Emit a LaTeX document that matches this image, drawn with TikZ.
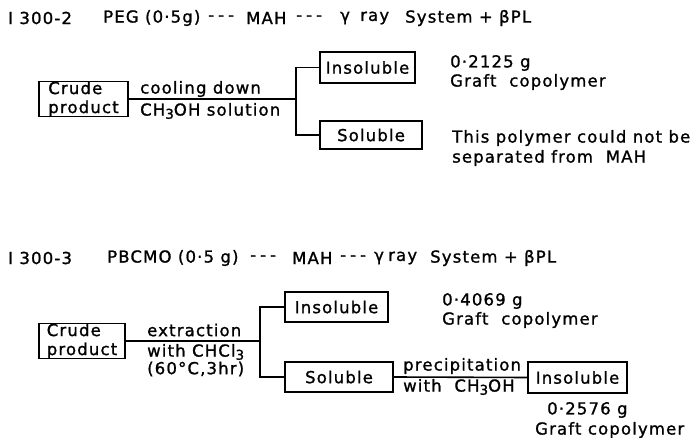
\documentclass[tikz,border=0pt]{standalone}
\usepackage{fontspec}
\setmainfont[LetterSpace=7,Ligatures=TeXOff,FakeBold=1.2]{DejaVu Sans}
\newcommand{\subthree}{\raisebox{-0.35ex}{\fontsize{13.5}{13.5}\selectfont 3}}
\newcommand{\triplehyphen}{-\hspace{4pt}-\hspace{4pt}-}
\begin{document}
\begin{tikzpicture}[x=1pt,y=-1pt,
  every node/.style={font=\fontsize{16.5}{19}\selectfont, inner sep=0pt},
  box/.style={draw, line width=1.6pt, minimum height=30pt, align=left},
  lbl/.style={anchor=west, align=left},
  wire/.style={line width=1.6pt}]
\useasboundingbox (0,0) rectangle (696,438);

% ---- Run I 300-2 ----
\node[lbl] (h1a) at (8,18) {I 300-2};
\node[lbl] (h1b) at (103,18) {PEG (0·5g)};
\node[lbl] (h1c) at (208,18) {\triplehyphen};
\node[lbl] (h1d) at (246,18) {MAH};
\node[lbl] (h1e) at (296,18) {\triplehyphen};
\node[lbl] (h1f) at (340,18) {γ};
\node[lbl] (h1g) at (360,18) {ray};
\node[lbl] (h1h) at (405,18) {System + βPL};

\node[box, minimum width=89pt, minimum height=35pt] (crude1) at (83.5,99) {Crude\\product};
\coordinate (b1) at (296,99);
\node[box, minimum width=95pt, minimum height=31pt] (ins1) at (367.5,67.5) {Insoluble};
\node[box, minimum width=102pt, minimum height=28pt] (sol1) at (371,135) {Soluble};
\draw[wire] (crude1.east) -- (b1);
\draw[wire] (ins1.west) -| (b1) |- (sol1.west);

\node[lbl] (c1) at (140,89) {cooling down};
\node[lbl] (c2) at (140,111) {CH\subthree OH solution};

\node[lbl] (r1) at (450,63) {0·2125 g};
\node[lbl] (r2) at (450,82) {Graft\ \ copolymer};
\node[lbl] (r3) at (452,138) {This polymer could not be};
\node[lbl] (r4) at (452,158) {separated from\ \ MAH};

% ---- Run I 300-3 ----
\node[lbl] (h2a) at (8,258) {I 300-3};
\node[lbl] (h2b) at (107,258) {PBCMO (0·5 g)};
\node[lbl] (h2c) at (250,258) {\triplehyphen};
\node[lbl] (h2d) at (292,258) {MAH};
\node[lbl] (h2e) at (340,258) {\triplehyphen};
\node[lbl] (h2f) at (374,258) {γ};
\node[lbl] (h2g) at (388,258) {ray};
\node[lbl] (h2h) at (430,258) {System + βPL};

\node[box, minimum width=86pt, minimum height=35pt] (crude2) at (82,341) {Crude\\product};
\coordinate (b2) at (260,341);
\node[box, minimum width=103pt] (ins2) at (336.5,307) {Insoluble};
\node[box, minimum width=108pt] (sol2) at (339,377) {Soluble};
\node[box, minimum width=99pt, minimum height=31pt] (ins3) at (577.5,377.5) {Insoluble};
\draw[wire] (crude2.east) -- (b2);
\draw[wire] (ins2.west) -| (b2) |- (sol2.west);
\draw[wire] (sol2.east) -- (ins3.west);

\node[lbl] (e1) at (147,330) {extraction};
\node[lbl] (e2) at (147,352) {with CHCl\subthree};
\node[lbl] (e3) at (147,369) {(60°C,3hr)};

\node[lbl] (s1) at (442,301) {0·4069 g};
\node[lbl] (s2) at (442,320) {Graft\ \ copolymer};

\node[lbl] (p1) at (403,366) {precipitation};
\node[lbl] (p2) at (403,387) {with\ \ CH\subthree OH};

\node[lbl] (t1) at (547,410) {0·2576 g};
\node[lbl] (t2) at (535,430) {Graft copolymer};
\end{tikzpicture}
\end{document}
